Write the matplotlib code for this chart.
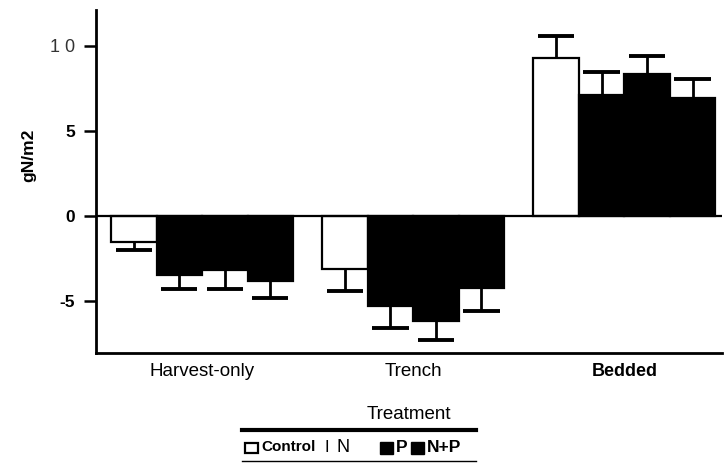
import matplotlib
matplotlib.use("Agg")
import matplotlib.pyplot as plt
from matplotlib.patches import Rectangle
from matplotlib.lines import Line2D
import numpy as np

sites = ["Harvest-only", "Trench", "Bedded"]
treatments = ["Control", "N", "P", "N+P"]
# mean and error-bar length (gN/m2)
means = {
    "Control": [-1.55, -3.1, 9.3],
    "N":       [-3.45, -5.3, 7.1],
    "P":       [-3.2, -6.15, 8.35],
    "N+P":     [-3.8, -4.25, 6.95],
}
errs = {
    "Control": [0.45, 1.3, 1.3],
    "N":       [0.85, 1.3, 1.4],
    "P":       [1.1, 1.15, 1.05],
    "N+P":     [1.0, 1.35, 1.1],
}
yticks = [-5, 0, 5, 10]
ytick_labels = ["-5", "0", "5", "1 0"]

SANS = ["Liberation Sans", "DejaVu Sans"]

fig = plt.figure(figsize=(7.27, 4.63), dpi=100)
ax = fig.add_axes([96/727, 1 - 353/463, (722-96)/727, (353-10)/463])

group_start = 0.33
group_step = 4.64
facec = {"Control": "white", "N": "black", "P": "black", "N+P": "black"}
for j, t in enumerate(treatments):
    x = group_start + group_step*np.arange(len(sites)) + j + 0.5
    m = np.array(means[t])
    e = np.array(errs[t])
    ax.bar(x, m, width=1.0, color=facec[t], edgecolor="black", linewidth=1.6, zorder=2)
    # one-sided error bars, pointing away from zero
    end = m + np.sign(m)*e
    ax.vlines(x, m, end, color="black", lw=2, zorder=3)
    ax.hlines(end, x - 0.4, x + 0.4, color="black", lw=2.8, zorder=3)

ax.axhline(0, color="black", lw=1.6, zorder=4)
ax.set_xlim(0, (722-96)/45.5)
ax.set_ylim((216-353)/17, (216-10)/17)

for s in ["top", "right"]:
    ax.spines[s].set_visible(False)
ax.spines["left"].set_linewidth(2)
ax.spines["bottom"].set_linewidth(2)

ax.set_yticks(yticks)
ax.set_yticklabels(ytick_labels)
ax.tick_params(axis="y", length=9, width=1.8, direction="out", pad=6, labelsize=12.5)
for lab in ax.get_yticklabels():
    lab.set_family(SANS)
    if lab.get_text() == "1 0":
        lab.set_fontweight("normal")
        lab.set_fontsize(13)
        lab.set_color("#333333")
    else:
        lab.set_fontweight("bold")

centers = group_start + group_step*np.arange(len(sites)) + 2
ax.set_xticks(centers)
ax.set_xticklabels(sites)
ax.tick_params(axis="x", length=0, pad=7, labelsize=13.5)
for lab in ax.get_xticklabels():
    lab.set_family(SANS)
    if lab.get_text() == "Bedded":
        lab.set_fontweight("bold")
        lab.set_fontsize(13)

ax.set_ylabel("gN/m2", fontsize=12.5, fontweight="bold", family=SANS)
ax.yaxis.set_label_coords(-0.095, 0.577)
ax.set_xlabel("Treatment", fontsize=13.5, family=SANS, labelpad=19)

# legend drawn as a small ruled strip below the axis title
W, H = 727, 463
fig.add_artist(Line2D([242/W, 476/W], [1-430/H, 1-430/H], color="black", lw=3))
fig.add_artist(Line2D([242/W, 476/W], [1-461/H, 1-461/H], color="black", lw=1))
ly = 1 - 447/H
fig.add_artist(Rectangle((245/W, 1-453/H), 13/W, 10/H, facecolor="white",
                         edgecolor="black", lw=1.6, transform=fig.transFigure))
fig.text(261/W, ly, treatments[0], fontsize=11, fontweight="bold", va="center", family=SANS)
fig.text(324/W, ly, "I", fontsize=12, va="center", family=SANS)
fig.text(337/W, ly, treatments[1], fontsize=13, va="center", family=SANS)
fig.add_artist(Rectangle((380/W, 1-454/H), 13/W, 12/H, facecolor="black",
                         edgecolor="black", lw=1, transform=fig.transFigure))
fig.text(396/W, ly, treatments[2], fontsize=12.5, fontweight="bold", va="center", family=SANS)
fig.add_artist(Rectangle((411/W, 1-454/H), 13/W, 12/H, facecolor="black",
                         edgecolor="black", lw=1, transform=fig.transFigure))
fig.text(427/W, ly, treatments[3], fontsize=12.5, fontweight="bold", va="center", family=SANS)

fig.savefig("out.png", dpi=100)
